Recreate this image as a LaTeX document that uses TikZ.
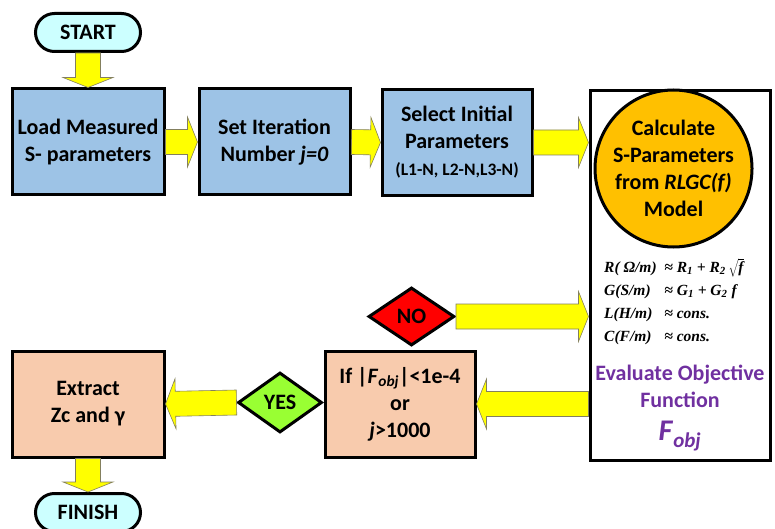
\documentclass[tikz,border=0pt]{standalone}
\usepackage{fontspec}
\setmainfont{Carlito}
\newfontfamily\eqfont{Liberation Serif}
\usetikzlibrary{shapes.geometric,calc}

\definecolor{boxblue}{HTML}{9DC3E6}
\definecolor{boxsalmon}{HTML}{F8CBAD}
\definecolor{pillcyan}{HTML}{CCFFFF}
\definecolor{calcorange}{HTML}{FFC000}
\definecolor{objpurple}{HTML}{7030A0}
\definecolor{yesgreen}{HTML}{99FF33}
\definecolor{nored}{HTML}{FF0000}
\definecolor{arrowyellow}{HTML}{FFFF00}

% block arrow from #1 to #2
\newcommand{\fatarrow}[2]{%
  \coordinate (fa-s) at (#1);
  \coordinate (fa-t) at (#2);
  \coordinate (fa-h) at ($(fa-t)!10pt!(fa-s)$);
  \filldraw[fatarrow] ($(fa-s)!12.5pt!90:(fa-t)$) -- ($(fa-h)!12.5pt!-90:(fa-s)$)
    -- ($(fa-h)!25pt!-90:(fa-s)$) -- (fa-t) -- ($(fa-h)!25pt!90:(fa-s)$)
    -- ($(fa-h)!12.5pt!90:(fa-s)$) -- ($(fa-s)!12.5pt!-90:(fa-t)$) -- cycle;
}

\begin{document}
\begin{tikzpicture}[x=1pt,y=-1pt,
    every node/.style={font=\bfseries\fontsize{22}{27}\selectfont, align=center},
    stepbox/.style={draw, line width=3pt, minimum width=152pt, minimum height=106pt, inner sep=0pt},
    pill/.style={draw, line width=3pt, fill=pillcyan, rounded corners=19pt, minimum width=105pt, minimum height=38pt},
    choice/.style={diamond, draw, line width=3pt, inner sep=0pt},
    fatarrow/.style={fill=arrowyellow, draw=olive!40!black!70, line width=0.6pt}]

    \useasboundingbox (0,0) rectangle (775,529);

    % top row
    \node[pill] (start) at (88,32.5) {START};
    \node[stepbox, fill=boxblue] (load) at (88,142) {Load Measured\\S- parameters};
    \node[stepbox, fill=boxblue, minimum width=151pt] (iter) at (274.5,142) {Set Iteration\\Number \textit{j=0}};
    \node[stepbox, fill=boxblue, minimum width=150pt] (select) at (457,142.5) {Select Initial\\Parameters\\{\fontsize{17.5}{22}\selectfont (L1-N, L2-N,L3-N)}};

    % model box
    \node[draw, line width=3pt, minimum width=180pt, minimum height=369pt] (evalbox) at (680,275.5) {};
    \node[circle, draw, line width=3pt, fill=calcorange, minimum size=157pt, inner sep=0pt] (calc) at (673.5,168.5) {Calculate\\S-Parameters\\from \textit{RLGC(f)}\\Model};
    \node[anchor=west, inner sep=0pt, font=\eqfont\bfseries\itshape\fontsize{15.5}{23}\selectfont] (rlgc) at (604,302) {%
      \begin{tabular}{@{}l@{\ \ }l@{}}
        R( Ω/m) & ≈ R\textsubscript{1} + R\textsubscript{2}\,$\sqrt{\mbox{\eqfont\bfseries\itshape f}}$\\
        G(S/m) & ≈ G\textsubscript{1} + G\textsubscript{2} f\\
        L(H/m) & ≈ cons.\\
        C(F/m) & ≈ cons.
      \end{tabular}};
    \node[text=objpurple] (evaltext) at (680,408) {Evaluate Objective\\Function\\[6pt]{\fontsize{30}{30}\selectfont\textit{F}\textsubscript{\textit{obj}}}};

    % bottom row
    \node[choice, fill=nored, minimum width=86pt, minimum height=58pt] (no) at (411.5,316.5) {NO};
    \node[stepbox, fill=boxsalmon, minimum width=150pt] (cond) at (400,404) {If |\textit{F}\textsubscript{\textit{obj}}|<1e-4\\or\\\textit{j}>1000};
    \node[choice, fill=yesgreen, minimum width=84pt, minimum height=60pt] (yes) at (280,402.5) {YES};
    \node[stepbox, fill=boxsalmon] (extract) at (88,404) {Extract\\Zc and γ};
    \node[pill] (finish) at (88,512.5) {FINISH};

    % arrows
    \fatarrow{start.south}{load.north}
    \fatarrow{load.east}{iter.west}
    \fatarrow{iter.east}{select.west}
    \fatarrow{select.east}{select.east -| evalbox.west}
    \fatarrow{no.east}{no.east -| evalbox.west}
    \fatarrow{cond.east -| evalbox.west}{cond.east}
    \fatarrow{yes.west}{extract.east}
    \fatarrow{extract.south}{finish.north}

\end{tikzpicture}
\end{document}
